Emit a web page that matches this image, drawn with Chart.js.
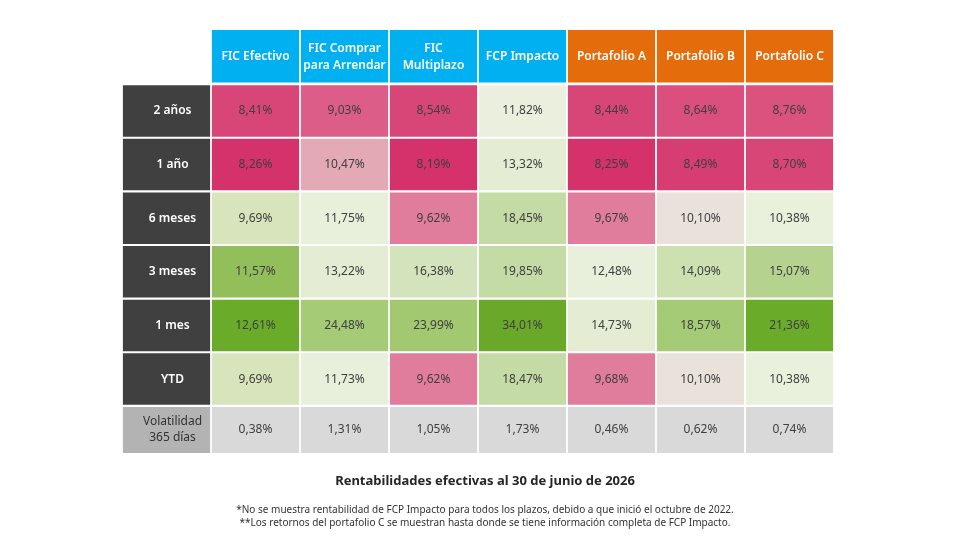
<!DOCTYPE html>
<html><head><meta charset="utf-8">
<script src="https://cdn.jsdelivr.net/npm/chart.js@4"></script>
<style>html,body{margin:0;padding:0;background:#fff}#w{width:971px;height:551px}</style>
</head><body><div id="w"><canvas id="c"></canvas></div>
<script>
const columns = [["FIC Efectivo"],["FIC Comprar","para Arrendar"],["FIC","Multiplazo"],["FCP Impacto"],["Portafolio A"],["Portafolio B"],["Portafolio C"]];
const rowLabels = ["2 años","1 año","6 meses","3 meses","1 mes","YTD",["Volatilidad","365 días"]];
const r2anos   = ["8,41%","9,03%","8,54%","11,82%","8,44%","8,64%","8,76%"];
const r1ano    = ["8,26%","10,47%","8,19%","13,32%","8,25%","8,49%","8,70%"];
const r6meses  = ["9,69%","11,75%","9,62%","18,45%","9,67%","10,10%","10,38%"];
const r3meses  = ["11,57%","13,22%","16,38%","19,85%","12,48%","14,09%","15,07%"];
const r1mes    = ["12,61%","24,48%","23,99%","34,01%","14,73%","18,57%","21,36%"];
const rYTD     = ["9,69%","11,73%","9,62%","18,47%","9,68%","10,10%","10,38%"];
const rVol     = ["0,38%","1,31%","1,05%","1,73%","0,46%","0,62%","0,74%"];
const values = [r2anos,r1ano,r6meses,r3meses,r1mes,rYTD,rVol];
const title = "Rentabilidades efectivas al 30 de junio de 2026";
const notes = ["*No se muestra rentabilidad de FCP Impacto para todos los plazos, debido a que inició el octubre de 2022.",
               "**Los retornos del portafolio C se muestran hasta donde se tiene información completa de FCP Impacto."];

const headerColors = ["#00b0f0","#00b0f0","#00b0f0","#00b0f0","#e46c0a","#e46c0a","#e46c0a"];
const cellColors = [
 ["#d84677","#dc5d87","#d84677","#ebefdd","#d84677","#da4f7d","#db527f"],
 ["#d5316b","#e3a9b5","#d5316b","#e4ecd3","#d5316b","#d63d72","#d84677"],
 ["#d8e4bc","#e8efdb","#e07d9c","#c4dba5","#e07d9c","#e8e2da","#e9f0dc"],
 ["#93bf5a","#e4ecd3","#d3e3bb","#c4dba5","#e8efdb","#cde1b0","#b5d38e"],
 ["#6aab2a","#a6cb77","#a2c870","#6aa829","#e4ecd3","#a6cb77","#6aab2a"],
 ["#d8e4bc","#e8efdb","#e07d9c","#c4dba5","#e07d9c","#e8e2da","#e9f0dc"],
 ["#d9d9d9","#d9d9d9","#d9d9d9","#d9d9d9","#d9d9d9","#d9d9d9","#d9d9d9"]
];
const rowTop = [1,2,3,4,5,6,7];
const FONT = "'Noto Sans', sans-serif";

const cats = ["",...columns.map(c=>c.join(" "))];
const datasets = [];
datasets.push({data:[null,...columns.map(()=>[0.0,0.98])], backgroundColor:["#fff",...headerColors]});
values.forEach((row,i)=>{
  const y0=rowTop[i]+0.03, y1=rowTop[i]+1-0.01 - (i===6?0.1:0);
  datasets.push({data:[[y0,y1],...row.map(()=>[y0,y1])],
    backgroundColor:[i===6?"#b3b3b3":"#404040",...cellColors[i]]});
});

const textPlugin = {id:"txt", afterDatasetsDraw(chart){
  const ctx=chart.ctx, x=chart.scales.x, y=chart.scales.y;
  ctx.save(); ctx.textAlign="center"; ctx.textBaseline="middle";
  const ml=(lines,cx,cy,lh)=>lines.forEach((l,k)=>ctx.fillText(l,cx,cy+(k-(lines.length-1)/2)*lh));
  columns.forEach((c,j)=>{ctx.fillStyle="#fff";ctx.font="600 12px "+FONT;
    ml(c,x.getPixelForValue(j+1),y.getPixelForValue(0.5),17);});
  values.forEach((row,i)=>{
    const cy = y.getPixelForValue(rowTop[i]+0.51-(i===6?0.05:0));
    ctx.font=(i===6?"400 12px ":"600 12px ")+FONT; ctx.fillStyle=i===6?"#333":"#fff";
    const lab=rowLabels[i]; ml(Array.isArray(lab)?lab:[lab],x.getPixelForValue(0)+6,cy,16);
    ctx.font="400 12px "+FONT; ctx.fillStyle="#404040";
    row.forEach((v,j)=>ctx.fillText(v,x.getPixelForValue(j+1),cy));
  });
  ctx.font="700 13px "+FONT; ctx.fillStyle="#262626"; ctx.fillText(title,485,481);
  ctx.font="400 10px "+FONT; ctx.fillStyle="#333";
  ctx.fillText(notes[0],485,510); ctx.fillText(notes[1],485,523);
  ctx.restore();
}};

new Chart(document.getElementById("c"),{
  type:"bar",
  data:{labels:cats,datasets},
  options:{responsive:true,maintainAspectRatio:false,animation:false,
    layout:{padding:{left:122,right:137,top:30,bottom:92}},
    datasets:{bar:{grouped:false,barPercentage:0.98,categoryPercentage:1,borderWidth:0}},
    plugins:{legend:{display:false},tooltip:{enabled:false}},
    scales:{x:{display:false},y:{display:false,reverse:true,min:0,max:8}}
  },
  plugins:[textPlugin]
});
</script></body></html>
